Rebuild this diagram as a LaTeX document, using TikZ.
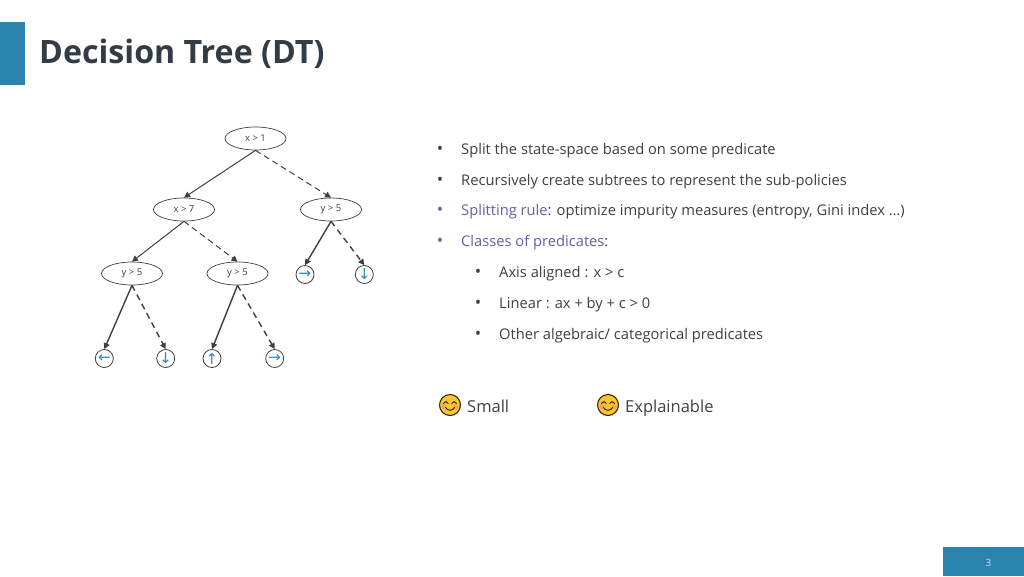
\documentclass[tikz,border=0pt]{standalone}
\usepackage{fontspec}
\setmainfont{Open Sans}
\newfontfamily\arrowfont{DejaVu Sans}
\usetikzlibrary{arrows.meta,shapes.geometric,calc}
\definecolor{barblue}{HTML}{2B84AE}
\definecolor{txt}{HTML}{404040}
\definecolor{titletxt}{HTML}{333B44}
\definecolor{linkpurple}{HTML}{5F62A8}
\definecolor{leafblue}{HTML}{2F86C8}
\definecolor{linegray}{HTML}{404040}
\definecolor{smileyellow}{HTML}{FBC531}
\definecolor{smileline}{HTML}{3B2A12}
\definecolor{blush}{HTML}{F59A6A}
\tikzset{
  split/.style={draw=linegray,line width=0.7pt,ellipse,minimum width=61pt,minimum height=23pt,inner sep=0pt,text=txt,font=\fontsize{9.5}{11}\selectfont},
  leaf/.style={draw=linegray,line width=0.8pt,circle,minimum size=18pt,inner sep=0pt,text=leafblue,font=\arrowfont\fontsize{15}{15}\selectfont},
  yes/.style={draw=linegray,line width=1pt,-{Triangle[length=6pt,width=6pt]}},
  no/.style={yes,dash pattern=on 6pt off 4pt},
  yesb/.style={yes,line width=1.4pt},
  nob/.style={yesb,dash pattern=on 6pt off 4.5pt},
  body/.style={anchor=base west,inner sep=0pt,text=txt,font=\fontsize{14.7}{17}\selectfont},
  dot/.style={anchor=base,inner sep=0pt,text=txt,font=\fontsize{17}{17}\selectfont},
  smile/.pic={
    \fill[smileyellow] (0,0) circle (10.5);
    \fill[blush,opacity=.75] (-6.3,1.8) circle (2.6);
    \fill[blush,opacity=.75] (6.3,1.8) circle (2.6);
    \draw[smileline,line width=1.1pt] (0,0) circle (10.5);
    \draw[smileline,line width=1pt,line cap=round] (-6.5,-1.6) .. controls (-5,-4) and (-3,-4) .. (-1.8,-1.6);
    \draw[smileline,line width=1pt,line cap=round] (6.5,-1.6) .. controls (5,-4) and (3,-4) .. (1.8,-1.6);
    \draw[smileline,line width=1pt,line cap=round] (-4.6,2.4) .. controls (-2.5,6.2) and (2.5,6.2) .. (4.6,2.4);
  }
}
\begin{document}
\begin{tikzpicture}[x=1pt,y=-1pt]
\useasboundingbox (0,0) rectangle (1024,576);
\fill[white] (0,0) rectangle (1024,576);
\fill[barblue] (0,22) rectangle (25,85);
\fill[barblue] (943,547) rectangle (1024,576);
\node[anchor=base west,inner sep=0pt,text=titletxt,font=\fontsize{32.2}{36}\selectfont\bfseries] (title) at (39,63.5) {Decision Tree (DT)};
\node[anchor=base,inner sep=0pt,text=white!75!barblue,font=\fontsize{10}{12}\selectfont] (pagenum) at (988.5,566) {3};

\node[split] (n1) at (255.5,138.5) {\raisebox{-0.8pt}{x > 1}};
\node[split] (n2) at (184,209.5) {\raisebox{-0.8pt}{x > 7}};
\node[split] (n3) at (331,209.5) {\raisebox{-0.8pt}{y > 5}};
\node[split] (n4) at (132,273.5) {\raisebox{-0.8pt}{y > 5}};
\node[split] (n5) at (237.5,273.5) {\raisebox{-0.8pt}{y > 5}};
\node[leaf] (l1) at (305,274.5) {→};
\node[leaf] (l2) at (364.3,274.5) {↓};
\node[leaf] (l3) at (104.3,358.5) {←};
\node[leaf] (l4) at (165.7,358.5) {↓};
\node[leaf] (l5) at (212,358.5) {↑};
\node[leaf] (l6) at (274.7,358.5) {→};
\draw[yes] (n1.south) -- (n2.north);
\draw[no] (n1.south) -- (n3.north);
\draw[yes] (n2.south) -- (n4.north);
\draw[no] (n2.south) -- (n5.north);
\draw[yesb] (n3.south) -- (l1.north);
\draw[nob] (n3.south) -- (l2.north);
\draw[yesb] (n4.south) -- (l3.north);
\draw[nob] (n4.south) -- (l4.north);
\draw[yesb] (n5.south) -- (l5.north);
\draw[nob] (n5.south) -- (l6.north);

\node[dot] (b1) at (440,154) {•};
\node[body] (t1) at (461,154) {Split the state-space based on some predicate};
\node[dot] (b2) at (440,185) {•};
\node[body] (t2) at (461,185) {Recursively create subtrees to represent the sub-policies};
\node[dot,text=linkpurple] (b3) at (440,215.5) {•};
\node[body] (t3) at (461,215.5) {\textcolor{linkpurple}{Splitting rule}: optimize impurity measures (entropy, Gini index …)};
\node[dot,text=linkpurple] (b4) at (440,246.5) {•};
\node[body] (t4) at (461,246.5) {\textcolor{linkpurple}{Classes of predicates}:};
\node[dot] (b5) at (478,277) {•};
\node[body] (t5) at (499,277) {Axis aligned : x > c};
\node[dot] (b6) at (478,308) {•};
\node[body] (t6) at (499,308) {Linear : ax + by + c > 0};
\node[dot] (b7) at (478,339) {•};
\node[body] (t7) at (499,339) {Other algebraic/ categorical predicates};

\pic at (450,405) {smile};
\pic at (608,405) {smile};
\node[body,font=\fontsize{16.5}{20}\selectfont] (s1) at (467,412) {Small};
\node[body,font=\fontsize{16.5}{20}\selectfont] (s2) at (625,412) {Explainable};
\end{tikzpicture}
\end{document}
